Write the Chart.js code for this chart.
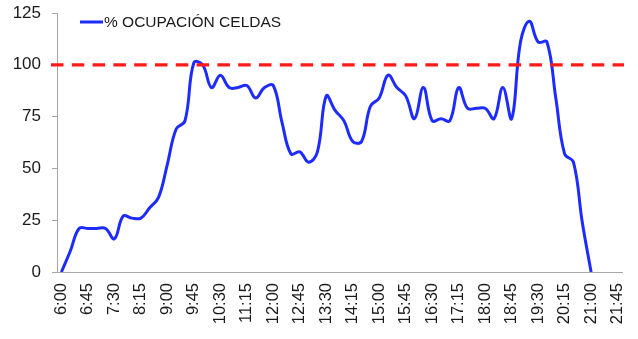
<!DOCTYPE html>
<html>
<head>
<meta charset="utf-8">
<script src="https://cdn.jsdelivr.net/npm/chart.js@4.4.1/dist/chart.umd.min.js"></script>
<style>
    html, body { margin: 0; padding: 0; background: #fff; }
    #contenedor { width: 638px; height: 339px; }
</style>
</head>
<body>
<div id="contenedor"><canvas id="grafica_ocupacion"></canvas></div>
<script>
// Gráfica de ocupación de celdas durante el día (intervalos de 15 min).

var horas = ['6:00', '6:15', '6:30', '6:45', '7:00', '7:15', '7:30', '7:45',
    '8:00', '8:15', '8:30', '8:45', '9:00', '9:15', '9:30', '9:45',
    '10:00', '10:15', '10:30', '10:45', '11:00', '11:15', '11:30', '11:45',
    '12:00', '12:15', '12:30', '12:45', '13:00', '13:15', '13:30', '13:45',
    '14:00', '14:15', '14:30', '14:45', '15:00', '15:15', '15:30', '15:45',
    '16:00', '16:15', '16:30', '16:45', '17:00', '17:15', '17:30', '17:45',
    '18:00', '18:15', '18:30', '18:45', '19:00', '19:15', '19:30', '19:45',
    '20:00', '20:15', '20:30', '20:45', '21:00', '21:15', '21:30', '21:45'];

var ocupacion = [0, 10, 21, 21, 21, 21, 16, 27,
    26, 26, 31, 36, 52, 69, 73, 101,
    100, 89, 95, 89, 89, 90, 84, 89,
    90, 72, 57, 58, 53, 58, 85, 78,
    73, 63, 63, 80, 84, 95, 89, 85,
    74, 89, 73, 74, 73, 89, 79, 79,
    79, 74, 89, 74, 111, 121, 111, 111,
    84, 57, 53, 24, 0, null, null, null];

var ticksY = [0, 25, 50, 75, 100, 125];
var limite = 100;
var nombreSerie = '% OCUPACIÓN CELDAS';

var azul = '#1e2bff';
var rojo = '#ff1a1a';
var gris = '#a6a6a6';
var fuente = '"Liberation Sans", Arial, sans-serif';

// Línea roja discontinua del 100 %.
var lineaLimite = {
    id: 'lineaLimite',
    afterDatasetsDraw: function (chart) {
        var ctx = chart.ctx;
        var area = chart.chartArea;
        var y = chart.scales.y.getPixelForValue(limite);
        ctx.save();
        ctx.strokeStyle = rojo;
        ctx.lineWidth = 3.2;
        ctx.setLineDash([12.5, 8.3]);
        ctx.beginPath();
        ctx.moveTo(area.left - 6, y);
        ctx.lineTo(area.right + 2, y);
        ctx.stroke();
        ctx.restore();
    }
};

// Leyenda dentro del área de la gráfica.
var leyenda = {
    id: 'leyenda',
    afterDraw: function (chart) {
        var ctx = chart.ctx;
        var ds = chart.data.datasets[0];
        ctx.save();
        ctx.strokeStyle = ds.borderColor;
        ctx.lineWidth = 3;
        ctx.beginPath();
        ctx.moveTo(80, 22);
        ctx.lineTo(103, 22);
        ctx.stroke();
        ctx.fillStyle = '#1a1a1a';
        ctx.font = '15.5px ' + fuente;
        ctx.textBaseline = 'middle';
        ctx.fillText(ds.label, 104, 22.5);
        ctx.restore();
    }
};

var context = document.getElementById('grafica_ocupacion').getContext('2d');

var chart = new Chart(context, {
    type: 'line',
    data: {
        labels: horas,
        datasets: [{
            label: nombreSerie,
            data: ocupacion,
            borderColor: azul,
            backgroundColor: azul,
            borderWidth: 3,
            pointRadius: 0,
            tension: 0.4,
            spanGaps: false
        }]
    },
    options: {
        responsive: true,
        maintainAspectRatio: false,
        animation: false,
        layout: { padding: { top: 13, right: 16, bottom: 0, left: 0 } },
        plugins: {
            legend: { display: false },
            tooltip: { enabled: false }
        },
        scales: {
            x: {
                offset: true,
                grid: { display: false, drawTicks: false },
                border: { display: true, color: gris, width: 1 },
                afterFit: function (scale) {
                    scale.height = 67;
                    scale.paddingLeft = 0;
                    scale.paddingRight = 0;
                },
                ticks: {
                    autoSkip: false,
                    minRotation: 90,
                    maxRotation: 90,
                    padding: 11,
                    color: '#1a1a1a',
                    font: { family: fuente, size: 16.5 },
                    callback: function (value, index) {
                        return index % 3 === 0 ? horas[index] : '';
                    }
                }
            },
            y: {
                min: 0,
                max: 125,
                afterFit: function (scale) {
                    scale.width = 57;
                    scale.paddingTop = 0;
                    scale.paddingBottom = 0;
                },
                afterBuildTicks: function (scale) {
                    scale.ticks = ticksY.map(function (v) { return { value: v }; });
                },
                grid: {
                    drawOnChartArea: false,
                    drawTicks: true,
                    tickLength: 5,
                    color: gris
                },
                border: { display: true, color: gris, width: 1 },
                ticks: {
                    padding: 11,
                    color: '#1a1a1a',
                    font: { family: fuente, size: 17 }
                }
            }
        }
    },
    plugins: [lineaLimite, leyenda]
});
</script>
</body>
</html>
